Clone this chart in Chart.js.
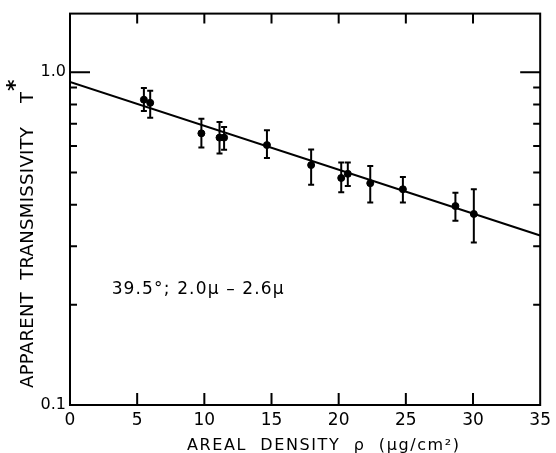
<!DOCTYPE html>
<html>
<head>
<meta charset="utf-8">
<title>Apparent transmissivity vs areal density</title>
<script src="https://cdn.jsdelivr.net/npm/chart.js@4.4.1/dist/chart.umd.min.js"></script>
<style>
    html, body { margin: 0; padding: 0; background: #fff; }
    canvas { display: block; }
</style>
</head>
<body>
<canvas id="transChart" width="556" height="453"></canvas>
<script>
// Areal density (ug/cm2) of each measured sample
const rho = [5.50, 5.97, 9.78, 11.13, 11.47, 14.66, 17.95, 20.19, 20.68, 22.35, 24.78, 28.69, 30.06];
// Apparent transmissivity T*
const trans = [0.827, 0.809, 0.655, 0.636, 0.636, 0.604, 0.526, 0.481, 0.495, 0.464, 0.445, 0.396, 0.375];
// Error bar ends
const errHigh = [0.896, 0.880, 0.725, 0.708, 0.684, 0.669, 0.586, 0.535, 0.535, 0.523, 0.484, 0.434, 0.445];
const errLow = [0.764, 0.730, 0.594, 0.570, 0.585, 0.552, 0.459, 0.436, 0.455, 0.406, 0.406, 0.358, 0.308];

// Fitted exponential line (straight on the log axis)
const fitRho = [0, 35];
const fitT = [0.935, 0.323];

// Axis ticks
const xTicks = [0, 5, 10, 15, 20, 25, 30, 35];
const yMajor = [0.1, 1.0];
const yMinor = [0.2, 0.3, 0.4, 0.5, 0.6, 0.7, 0.8, 0.9];

const FONT = "'DejaVu Sans', sans-serif";

/**
 * Harfleri araya boşluk koyarak belli bir genişliğe yay
 */
function drawSpaced(ctx, text, x, y, width) {
    ctx.letterSpacing = '0px';
    const w = ctx.measureText(text).width;
    const gap = (width - w) / Math.max(text.length - 1, 1);
    ctx.letterSpacing = gap + 'px';
    ctx.fillText(text, x, y);
    ctx.letterSpacing = '0px';
}

// Kutu, içe dönük çentikler, hata çubukları ve yazılar
const framePlugin = {
    id: 'frame',
    afterDatasetsDraw(chart) {
        const { ctx, chartArea: a, scales: { x, y } } = chart;
        ctx.save();
        ctx.strokeStyle = '#000';
        ctx.fillStyle = '#000';

        // error bars
        ctx.lineWidth = 2;
        rho.forEach((r, i) => {
            const px = x.getPixelForValue(r);
            const top = y.getPixelForValue(errHigh[i]);
            const bot = y.getPixelForValue(errLow[i]);
            ctx.beginPath();
            ctx.moveTo(px, top); ctx.lineTo(px, bot);
            ctx.moveTo(px - 3, top); ctx.lineTo(px + 3, top);
            ctx.moveTo(px - 3, bot); ctx.lineTo(px + 3, bot);
            ctx.stroke();
        });

        // frame
        ctx.lineWidth = 2;
        ctx.strokeRect(a.left, a.top, a.right - a.left, a.bottom - a.top);

        // x ticks (inside, top and bottom)
        ctx.beginPath();
        xTicks.slice(1, -1).forEach(v => {
            const px = x.getPixelForValue(v);
            ctx.moveTo(px, a.bottom); ctx.lineTo(px, a.bottom - 12);
            ctx.moveTo(px, a.top); ctx.lineTo(px, a.top + 10);
        });
        // y ticks (inside, left and right)
        yMinor.forEach(v => {
            const py = y.getPixelForValue(v);
            ctx.moveTo(a.left, py); ctx.lineTo(a.left + 7, py);
            ctx.moveTo(a.right, py); ctx.lineTo(a.right - 7, py);
        });
        const p1 = y.getPixelForValue(1.0);
        ctx.moveTo(a.left, p1); ctx.lineTo(a.left + 20, p1);
        ctx.moveTo(a.right, p1); ctx.lineTo(a.right - 20, p1);
        ctx.stroke();

        // note inside the plot
        ctx.font = '17px ' + FONT;
        ctx.textAlign = 'left';
        ctx.textBaseline = 'alphabetic';
        drawSpaced(ctx, '39.5°; 2.0μ – 2.6μ', x.getPixelForValue(3.1), y.getPixelForValue(0.216), 172);

        // x axis title
        ctx.font = '16px ' + FONT;
        drawSpaced(ctx, 'AREAL  DENSITY  ρ  (μg/cm²)', 187, 450, 272);

        // y axis title, rotated
        ctx.translate(33, 388);
        ctx.rotate(-Math.PI / 2);
        ctx.font = '18px ' + FONT;
        drawSpaced(ctx, 'APPARENT  TRANSMISSIVITY', 0, 0, 261);
        ctx.fillText('T', 285, 0);
        ctx.font = 'bold 22px ' + FONT;
        ctx.fillText('*', 297, -11);
        ctx.restore();
    }
};

const ctx = document.getElementById('transChart');

new Chart(ctx, {
    type: 'scatter',
    data: {
        datasets: [
            {
                label: 'measured',
                data: rho.map((r, i) => ({ x: r, y: trans[i] })),
                backgroundColor: '#000',
                borderColor: '#000',
                pointRadius: 3.5,
                showLine: false
            },
            {
                label: 'fit',
                type: 'line',
                data: fitRho.map((r, i) => ({ x: r, y: fitT[i] })),
                borderColor: '#000',
                borderWidth: 2,
                pointRadius: 0,
                fill: false,
                tension: 0
            }
        ]
    },
    options: {
        responsive: false,
        animation: false,
        layout: { padding: { top: 11, right: 11, left: 0, bottom: 0 } },
        plugins: {
            legend: { display: false },
            tooltip: { enabled: false }
        },
        scales: {
            x: {
                type: 'linear',
                min: 0,
                max: 35,
                afterBuildTicks: scale => { scale.ticks = xTicks.map(v => ({ value: v })); },
                afterFit: scale => { scale.height = 48; },
                grid: { display: false, drawTicks: false },
                border: { display: false },
                ticks: {
                    color: '#000',
                    padding: 5,
                    maxRotation: 0,
                    font: { family: FONT, size: 17 }
                }
            },
            y: {
                type: 'logarithmic',
                min: 0.1,
                max: 1.5,
                afterBuildTicks: scale => { scale.ticks = yMajor.map(v => ({ value: v })); },
                afterFit: scale => { scale.width = 70; },
                grid: { display: false, drawTicks: false },
                border: { display: false },
                ticks: {
                    color: '#000',
                    padding: 4,
                    font: { family: FONT, size: 16 },
                    callback: value => value.toFixed(1)
                }
            }
        }
    },
    plugins: [framePlugin]
});
</script>
</body>
</html>
